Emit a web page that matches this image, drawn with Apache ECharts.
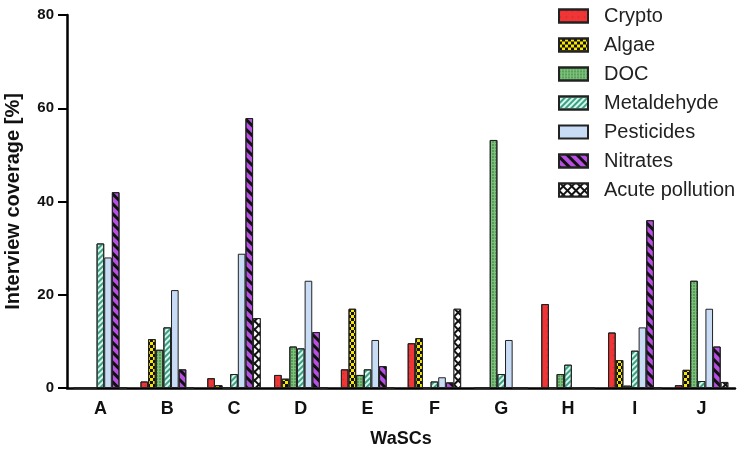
<!DOCTYPE html>
<html><head><meta charset="utf-8">
<script src="https://cdn.jsdelivr.net/npm/echarts@6/dist/echarts.min.js"></script>
<style>html,body{margin:0;padding:0;background:#fff}#c{width:738px;height:449px}</style>
</head><body><div id="c"></div>
<script>
var categories = ['A','B','C','D','E','F','G','H','I','J'];
var seriesNames = ['Crypto','Algae','DOC','Metaldehyde','Pesticides','Nitrates','Acute pollution'];
var cryptoVals      = [0, 1.4, 2.1, 2.8, 4, 9.6, 0, 18, 11.9, 0.6];
var algaeVals       = [0, 10.5, 0.6, 2, 17, 10.7, 0, 0, 6, 3.9];
var docVals         = [0, 8.2, 0, 8.9, 2.8, 0, 53.2, 3, 0.5, 23];
var metaldehydeVals = [31, 13, 3, 8.5, 4, 1.4, 3, 5, 8, 1.5];
var pesticidesVals  = [28, 21, 28.8, 23, 10.3, 2.3, 10.3, 0, 13, 17];
var nitratesVals    = [42, 4, 57.9, 12, 4.7, 1.2, 0, 0, 36, 8.9];
var acuteVals       = [0, 0, 15, 0, 0, 17, 0, 0, 0, 1.3];
var yTicks = [0, 20, 40, 60, 80];

var values = [cryptoVals, algaeVals, docVals, metaldehydeVals, pesticidesVals, nitratesVals, acuteVals];
var styles = [
  {color:'#ef3535', decal:{symbol:'circle', color:'rgba(150,20,20,0.35)', symbolSize:0.5, dashArrayX:[3,3], dashArrayY:[3,3]}},
  {color:'#f7e600', decal:{symbol:'rect', color:'#111', symbolSize:1, dashArrayX:[[3,3],[0,3,3,0]], dashArrayY:[3,0]}},
  {color:'#7cc27c', decal:{symbol:'circle', color:'#1f5e1f', symbolSize:0.7, dashArrayX:[2,1], dashArrayY:[2,1]}},
  {color:'#d4f7ec', decal:{symbol:'rect', color:'#3e9f84', symbolSize:1, dashArrayX:[1,0], dashArrayY:[2,2], rotation:-Math.PI/4}},
  {color:'#c8dcf6', decal:'none'},
  {color:'#b64fe2', decal:{symbol:'rect', color:'#111', symbolSize:1, dashArrayX:[1,0], dashArrayY:[2.5,4], rotation:Math.PI/4}},
  {color:'#111', decal:{symbol:'rect', color:'#fff', symbolSize:1, dashArrayX:[4,1.5], dashArrayY:[4,1.5], rotation:Math.PI/4}}
];

var series = seriesNames.map(function(n,i){
  var st = {color: styles[i].color, borderColor:'#222', borderWidth:1};
  if (styles[i].decal !== 'none') st.decal = styles[i].decal;
  return {name:n, type:'bar', data: values[i], barGap:'0%', barCategoryGap:'20%', itemStyle: st, emphasis:{disabled:true}};
});

var chart = echarts.init(document.getElementById('c'), null, {renderer:'canvas'});
chart.setOption({
  animation:false,
  backgroundColor:'#fff',
  grid:{left:67, right:3, top:15, bottom:61, containLabel:false, outerBoundsMode:'none'},
  legend:{
    orient:'vertical', left:558, top:6, padding:0, itemWidth:29, itemHeight:13, itemGap:9,
    icon:'rect',
    textStyle:{fontFamily:'Liberation Sans', fontSize:20, color:'#222', lineHeight:20, padding:[0,0,0,11]},
    data: seriesNames
  },
  xAxis:{
    type:'category', data:categories,
    axisLine:{lineStyle:{color:'#000', width:2.5}},
    axisTick:{alignWithLabel:true, length:7, lineStyle:{color:'#000', width:2}},
    axisLabel:{fontFamily:'Liberation Sans', fontWeight:'bold', fontSize:18, color:'#111', margin:12},
    name:'WaSCs', nameLocation:'middle', nameGap:42,
    nameTextStyle:{fontFamily:'Liberation Sans', fontWeight:'bold', fontSize:18, color:'#111'}
  },
  yAxis:{
    type:'value', min:yTicks[0], max:yTicks[yTicks.length-1], interval:20,
    axisLine:{show:true, lineStyle:{color:'#000', width:2.5}},
    axisTick:{show:true, length:9, lineStyle:{color:'#000', width:2}},
    splitLine:{show:false},
    axisLabel:{fontFamily:'Liberation Sans', fontWeight:'bold', fontSize:15, color:'#111', margin:13},
    name:'Interview coverage [%]', nameLocation:'middle', nameGap:44,
    nameTextStyle:{fontFamily:'Liberation Sans', fontWeight:'bold', fontSize:20, color:'#111'}
  },
  series: series
});
</script></body></html>
